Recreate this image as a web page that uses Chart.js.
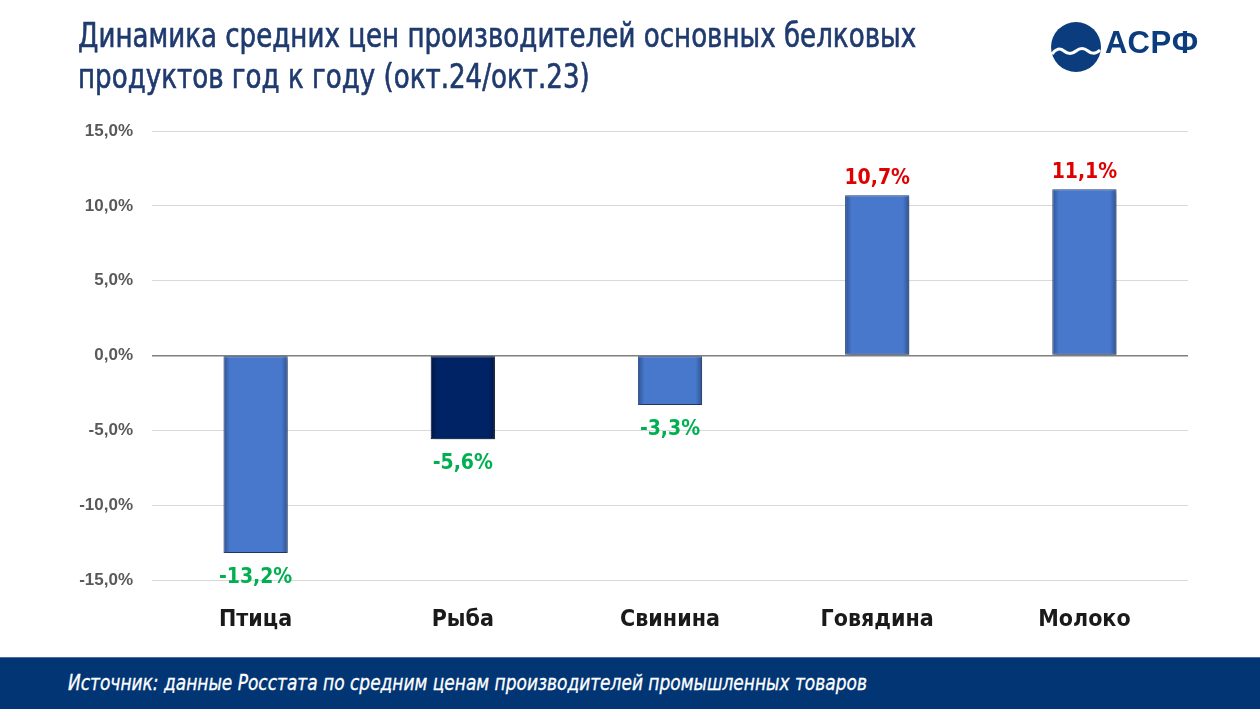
<!DOCTYPE html>
<html>
<head>
<meta charset="utf-8">
<script src="https://cdn.jsdelivr.net/npm/chart.js@4/dist/chart.umd.min.js"></script>
<style>
  html, body { margin: 0; padding: 0; background: #fff; }
  #page { position: relative; width: 1260px; height: 709px; overflow: hidden; background: #fff; }
  .cond { font-family: "Liberation Sans Narrow", "DejaVu Sans Condensed", "Roboto", sans-serif; }
  #title { position: absolute; left: 78px; top: 15px; color: #1f3a6e; font-size: 33px; line-height: 41px; font-weight: normal; -webkit-text-stroke: 0.6px #1f3a6e; transform: scaleX(0.88); transform-origin: 0 0; white-space: nowrap; }
  #logo { position: absolute; left: 1050px; top: 21px; }
  #logoText { position: absolute; left: 1105px; top: 25px; color: #0b3d7e; font-family: "Liberation Sans", Arial, sans-serif; font-weight: bold; font-size: 31px; letter-spacing: 0.8px; }
  #chartBox { position: absolute; left: 0; top: 0; width: 1260px; height: 657px; }
  #footer { position: absolute; left: 0; top: 657px; width: 1260px; height: 52px; background: #013574; border-top: 1px solid #4a6fa5; }
  #footer span { position: absolute; left: 68px; top: 13px; color: #fff; font-size: 21px; font-style: italic; -webkit-text-stroke: 0.3px #fff; transform: scaleX(0.9); transform-origin: 0 0; white-space: nowrap; }
</style>
</head>
<body>
<div id="page">
  <div id="chartBox"><canvas id="chart" width="1260" height="657"></canvas></div>
  <div id="title" class="cond">Динамика средних цен производителей основных белковых<br>продуктов год к году (окт.24/окт.23)</div>
  <svg id="logo" width="52" height="52" viewBox="0 0 52 52">
    <circle cx="26" cy="26" r="25" fill="#0b3d7e"/>
    <path d="M2 33 Q8 25 14 30 Q20 35 26 30 Q32 25 38 30 Q44 35 50 29" stroke="#fff" stroke-width="3" fill="none"/>
  </svg>
  <div id="logoText">АСРФ</div>
  <div id="footer"><span class="cond">Источник: данные Росстата  по средним ценам производителей  промышленных товаров</span></div>
</div>
<script>
var categories = ['Птица', 'Рыба', 'Свинина', 'Говядина', 'Молоко'];
var values = [-13.2, -5.6, -3.3, 10.7, 11.1];
var highlight = [false, true, false, false, false];
var yTicks = [-15, -10, -5, 0, 5, 10, 15];

(function() {
  var condFont = '"Liberation Sans Narrow", "DejaVu Sans Condensed", "Roboto", sans-serif';

  function fmt(v) {
    return v.toFixed(1).replace('.', ',') + '%';
  }

  // bevel-like fill, set right before drawing when bar geometry is known
  function makeFill(c, el, dark) {
    var half = el.width / 2;
    var g = c.createLinearGradient(el.x - half, 0, el.x + half, 0);
    var edge = dark ? '#001644' : '#2f5290';
    var mid = dark ? '#002366' : '#4778cc';
    g.addColorStop(0, edge);
    g.addColorStop(0.1, mid);
    g.addColorStop(0.9, mid);
    g.addColorStop(1, edge);
    return g;
  }

  var shadowPlugin = {
    id: 'barShadow',
    beforeDatasetDraw: function(chart) {
      var c = chart.ctx;
      chart.getDatasetMeta(0).data.forEach(function(el, i) {
        if (isFinite(el.x) && isFinite(el.width)) {
          el.options.backgroundColor = makeFill(c, el, highlight[i]);
        }
      });
      c.save();
      c.shadowColor = 'rgba(0,0,0,0.35)';
      c.shadowBlur = 4;
      c.shadowOffsetX = 2;
      c.shadowOffsetY = 2;
    },
    afterDatasetDraw: function(chart) {
      chart.ctx.restore();
    }
  };

  var labelPlugin = {
    id: 'valueLabels',
    afterDatasetsDraw: function(chart) {
      var c = chart.ctx;
      var meta = chart.getDatasetMeta(0);
      c.save();
      c.font = 'bold 21px ' + condFont;
      c.textAlign = 'center';
      meta.data.forEach(function(bar, i) {
        var v = values[i];
        if (v < 0) {
          c.fillStyle = '#00b050';
          c.textBaseline = 'top';
          c.fillText(fmt(v), bar.x, bar.y + 14);
        } else {
          c.fillStyle = '#e00000';
          c.textBaseline = 'bottom';
          c.fillText(fmt(v), bar.x, bar.y - 6);
        }
      });
      c.restore();
    }
  };

  new Chart(document.getElementById('chart'), {
    type: 'bar',
    data: {
      labels: categories,
      datasets: [{
        data: values,
        backgroundColor: function(ctx) { return highlight[ctx.dataIndex] ? '#002060' : '#4472c4'; },
        borderColor: function(ctx) { return highlight[ctx.dataIndex] ? '#00133a' : '#2a4a86'; },
        borderWidth: 1,
        borderSkipped: false,
        barPercentage: 0.31,
        categoryPercentage: 1
      }]
    },
    plugins: [shadowPlugin, labelPlugin],
    options: {
      responsive: false,
      animation: false,
      devicePixelRatio: 1,
      layout: { padding: { left: 0, right: 72, top: 131, bottom: 0 } },
      plugins: { legend: { display: false }, tooltip: { enabled: false } },
      scales: {
        x: {
          grid: { display: false, drawTicks: false },
          border: { display: false },
          ticks: {
            padding: 26,
            color: '#1a1a1a',
            font: { family: condFont, size: 23, weight: 'bold' }
          },
          afterFit: function(s) { s.height = 77; }
        },
        y: {
          min: -15,
          max: 15,
          afterBuildTicks: function(s) { s.ticks = yTicks.map(function(v) { return { value: v }; }); },
          grid: {
            drawTicks: false,
            color: function(ctx) { return ctx.tick && ctx.tick.value === 0 ? '#7f7f7f' : '#d9d9d9'; },
            lineWidth: function(ctx) { return ctx.tick && ctx.tick.value === 0 ? 1.5 : 1; }
          },
          border: { display: false },
          ticks: {
            padding: 19,
            color: '#595959',
            font: { family: '"Liberation Sans", Arial, sans-serif', size: 17, weight: 'bold' },
            callback: function(v) { return fmt(v); }
          },
          afterFit: function(s) { s.width = 152; }
        }
      }
    }
  });
})();
</script>
</body>
</html>
